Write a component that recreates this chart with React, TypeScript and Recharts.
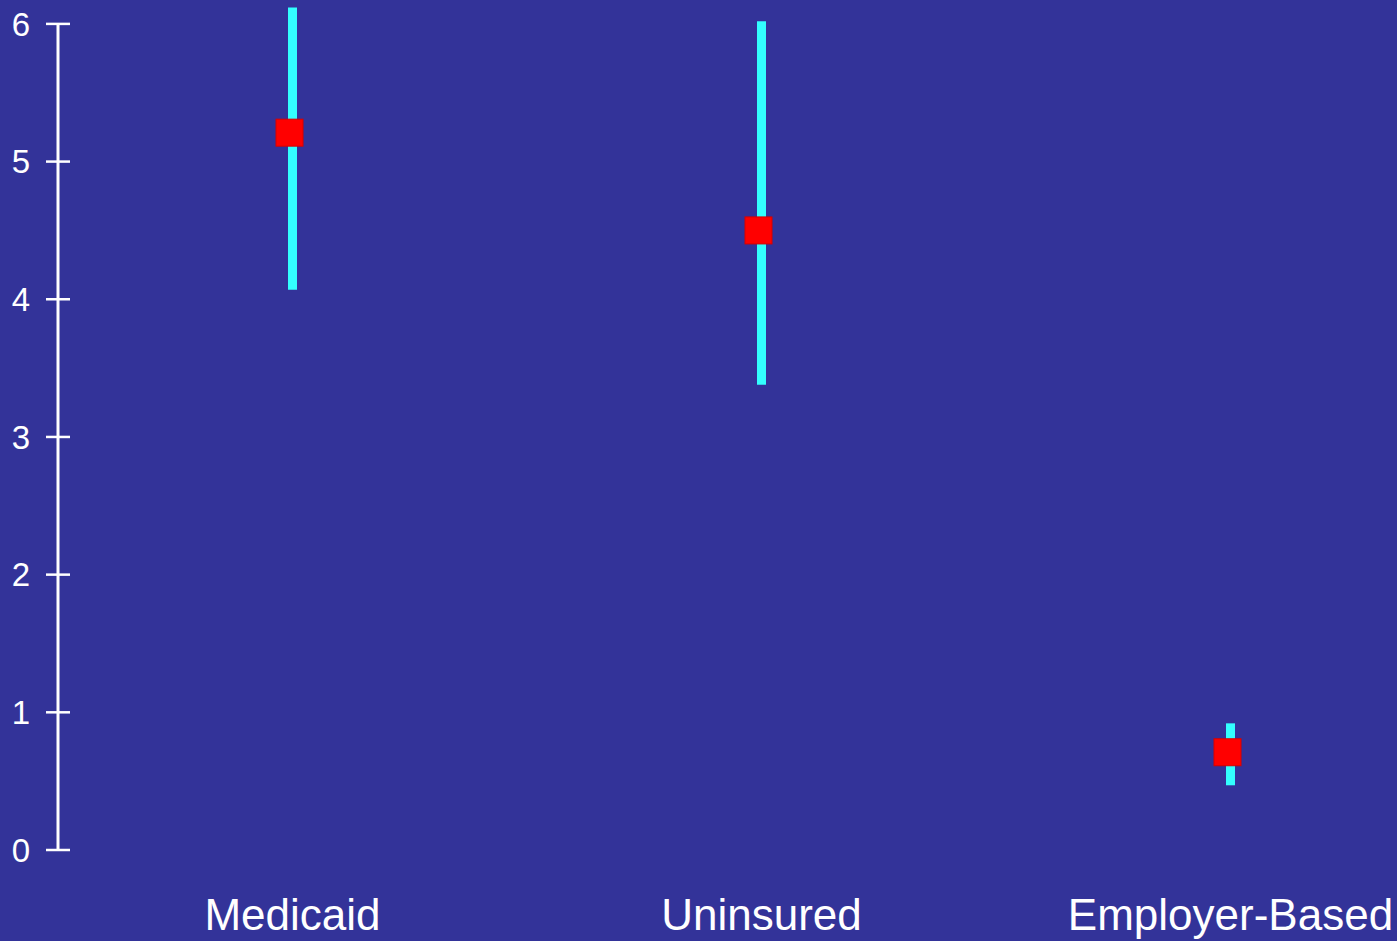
import { ScatterChart, Scatter, XAxis, YAxis, ErrorBar, ReferenceLine } from 'recharts'

const categories = ['Medicaid', 'Uninsured', 'Employer-Based']
const estimates = [5.21, 4.5, 0.71]
const lowerBounds = [4.07, 3.38, 0.47]
const upperBounds = [6.12, 6.02, 0.92]
const yTicks = [0, 1, 2, 3, 4, 5, 6]

const BG = '#333399'
const FONT = '"Liberation Sans", Arial, sans-serif'

const data = categories.map((name, i) => ({
  x: i,
  name,
  value: estimates[i],
  err: [estimates[i] - lowerBounds[i], upperBounds[i] - estimates[i]],
}))

// y ticks cross the axis line on both sides
const YTick = (props: any) => {
  const { x, y, payload } = props
  return (
    <g>
      <line x1={x + 16} x2={x + 40} y1={y} y2={y} stroke="#fff" strokeWidth={2.5} />
      <text x={x} y={y} dy="0.355em" textAnchor="end" fill="#fff" fontSize={33} fontFamily={FONT}>
        {payload.value}
      </text>
    </g>
  )
}

// red square sits a little left of the cyan interval
const Marker = (props: any) => {
  const { cx, cy } = props
  if (cx == null || cy == null) return null
  return <rect x={cx - 3 - 13.5} y={cy - 13.5} width={27} height={27} fill="#ff0000" stroke="#d80000" strokeWidth={1} />
}

export default function App() {
  return (
    <div style={{ position: 'fixed', left: 0, top: 0, width: 1397, height: 941, background: BG }}>
      <ScatterChart width={1397} height={941} margin={{ top: 6, right: 0, bottom: 0, left: 0 }}>
        <XAxis
          type="number"
          dataKey="x"
          domain={[-0.5, 2.355]}
          allowDataOverflow
          ticks={[0, 1, 2]}
          interval={0}
          tickFormatter={(v: number) => categories[v] ?? ''}
          axisLine={false}
          tickLine={false}
          tickSize={0}
          tickMargin={49}
          height={91}
          tick={{ fill: '#fff', fontSize: 44, fontFamily: FONT }}
        />
        <YAxis
          type="number"
          dataKey="value"
          domain={[0, 6.13]}
          allowDataOverflow
          ticks={yTicks}
          interval={0}
          width={58}
          axisLine={false}
          tickLine={false}
          tickSize={12}
          tickMargin={16}
          tick={<YTick />}
        />
        <ReferenceLine
          segment={[{ x: -0.5, y: 0 }, { x: -0.5, y: 6 }]}
          stroke="#fff"
          strokeWidth={3}
          ifOverflow="visible"
        />
        <Scatter data={data} shape={<Marker />} isAnimationActive={false}>
          <ErrorBar dataKey="err" direction="y" width={0} stroke="#33ffff" strokeWidth={9} isAnimationActive={false} />
        </Scatter>
      </ScatterChart>
    </div>
  )
}
